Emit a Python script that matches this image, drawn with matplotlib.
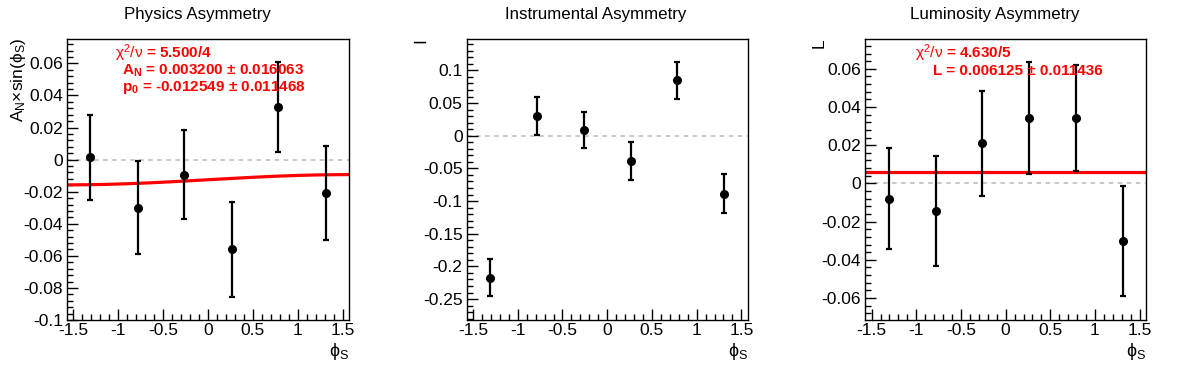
import numpy as np
import matplotlib
matplotlib.use("Agg")
import matplotlib.pyplot as plt
from matplotlib.ticker import MultipleLocator, FuncFormatter

plt.rcParams['font.family'] = ['Liberation Sans', 'DejaVu Sans']
plt.rcParams['mathtext.fontset'] = 'custom'
plt.rcParams['mathtext.rm'] = 'Liberation Sans'
plt.rcParams['mathtext.it'] = 'Liberation Sans'
plt.rcParams['mathtext.bf'] = 'Liberation Sans:bold'
plt.rcParams['mathtext.fallback'] = 'stixsans'

# ---------------- data ----------------
phi_s = [-1.309, -0.785, -0.262, 0.262, 0.785, 1.309]

phys_y = [0.0016, -0.0300, -0.0095, -0.0559, 0.0328, -0.0207]
phys_err = [0.0265, 0.0290, 0.0277, 0.0295, 0.0281, 0.0292]
phys_AN = 0.003200
phys_p0 = -0.012549

inst_y = [-0.2175, 0.0300, 0.0087, -0.0385, 0.0845, -0.0885]
inst_err = [0.0285, 0.0295, 0.0275, 0.0290, 0.0285, 0.0295]

lumi_y = [-0.0080, -0.0143, 0.0211, 0.0344, 0.0344, -0.0301]
lumi_err = [0.0263, 0.0289, 0.0275, 0.0294, 0.0278, 0.0289]
lumi_L = 0.006125

titles = ["Physics Asymmetry", "Instrumental Asymmetry", "Luminosity Asymmetry"]
ylabels = [r"$\mathrm{A_{N}{\times}sin(ϕ_{S})}$", "I", "L"]
xlabel = r"$\mathrm{ϕ_{S}}$"
phys_text = [r"$\chi^{2}/\nu$ = 5.500/4",
             r"$\mathbf{A_{N}}$ = 0.003200 ± 0.016063",
             r"$\mathbf{p_{0}}$ = -0.012549 ± 0.011468"]
lumi_text = [r"$\chi^{2}/\nu$ = 4.630/5",
             "L = 0.006125 ± 0.011436"]

# ---------------- layout ----------------
W, H = 1196, 372
fig = plt.figure(figsize=(W / 100, H / 100), dpi=100)

def px_axes(l, t, r, b):
    return fig.add_axes([l / W, 1 - b / H, (r - l) / W, (b - t) / H])

ax_boxes = [(67, 39, 349, 320), (466.7, 39, 747.7, 320), (865.3, 39, 1146, 320)]
ylims = [(-0.1, 0.0752), (-0.282, 0.148), (-0.0715, 0.0756)]
ymajor = [0.02, 0.05, 0.02]
yminor = [0.004, 0.01, 0.004]
title_x = [197.5, 596, 994.5]
ylabel_x = [18.5, 421, 819]

xmin, xmax = -np.pi / 2, np.pi / 2

def fmt(v, pos):
    v = round(v, 6)
    if v == 0:
        return "0"
    return f"{v:g}"

datasets = [(phys_y, phys_err), (inst_y, inst_err), (lumi_y, lumi_err)]
axes = []
for i, box in enumerate(ax_boxes):
    ax = px_axes(*box)
    axes.append(ax)
    ax.set_xlim(xmin, xmax)
    ax.set_ylim(*ylims[i])
    ax.xaxis.set_major_locator(MultipleLocator(0.5))
    ax.xaxis.set_minor_locator(MultipleLocator(0.1))
    ax.yaxis.set_major_locator(MultipleLocator(ymajor[i]))
    ax.yaxis.set_minor_locator(MultipleLocator(yminor[i]))
    ax.xaxis.set_major_formatter(FuncFormatter(fmt))
    ax.yaxis.set_major_formatter(FuncFormatter(fmt))
    ax.tick_params(which='both', direction='in', top=False, right=False,
                   labelsize=12.5, width=1, color='black')
    ax.tick_params(axis='x', which='major', length=8, pad=2)
    ax.tick_params(axis='x', which='minor', length=4)
    ax.tick_params(axis='y', which='major', length=8, pad=3)
    ax.tick_params(axis='y', which='minor', length=4)
    for s in ax.spines.values():
        s.set_linewidth(1.0)
        s.set_color('black')
    ax.axhline(0, color='#c4c4c4', lw=1.3, ls=(0, (2.5, 2.5)), zorder=1)
    y, e = datasets[i]
    ax.errorbar(phi_s, y, yerr=e, fmt='o', color='black', ms=5.5,
                elinewidth=1.6, capsize=2.0, capthick=1.6, zorder=3)
    fig.text(title_x[i] / W, 1 - 15 / H, titles[i], ha='center', va='center',
             fontsize=12.2)
    fig.text(ylabel_x[i] / W, 1 - 38 / H, ylabels[i], rotation=90,
             ha='center', va='top', fontsize=12.5)
    r = box[2]
    fig.text(r / W, 1 - 341 / H, xlabel, ha='right', va='top', fontsize=13)

# fits
xf = np.linspace(xmin, xmax, 200)
axes[0].plot(xf, phys_p0 + phys_AN * np.sin(xf), color='red', lw=2.3, zorder=2)
axes[2].plot(xf, np.full_like(xf, lumi_L), color='red', lw=2.3, zorder=2)

# fit text
def red(x, y, s, ha):
    fig.text(x / W, 1 - y / H, s, ha=ha, va='center', color='red',
             fontsize=11, fontweight='bold')

red(115, 53, phys_text[0], 'left')
red(304, 71, phys_text[1], 'right')
red(306, 88, phys_text[2], 'right')
red(915, 53, lumi_text[0], 'left')
red(1103, 71, lumi_text[1], 'right')

fig.savefig("out.png", dpi=100)
